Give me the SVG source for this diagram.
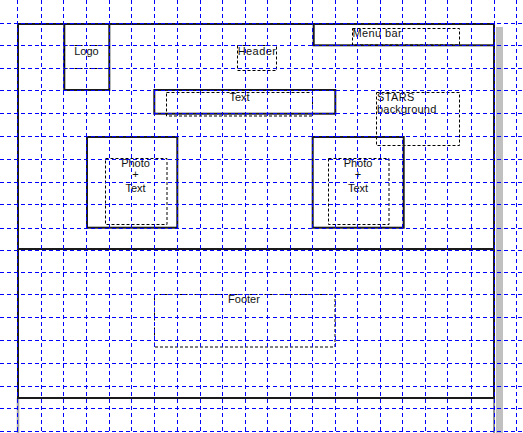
<svg xmlns="http://www.w3.org/2000/svg" width="523" height="433" viewBox="0 0 523 433">
  <style>
    .box { fill: none; stroke: #1a1a1a; stroke-width: 2; }
    .dash { fill: none; stroke: #000; stroke-width: 1; stroke-dasharray: 3 2; }
    .grid { fill: none; stroke: #0000ff; stroke-width: 1; stroke-dasharray: 4 3; }
    .lbl { font-family: "Liberation Sans", Arial, sans-serif; font-size: 11px; fill: #111; }
    .mid { text-anchor: middle; }
  </style>
  <rect width="523" height="433" fill="#fff"/>

  <!-- page edges continuing below the frame, and drop shadow -->
  <g id="page">
    <rect x="496" y="27" width="7" height="406" fill="#c0c0c0"/>
    <line x1="18" y1="398" x2="18" y2="433" stroke="#a8a8a8" stroke-width="2.5"/>
    <line x1="494" y1="398" x2="494" y2="433" stroke="#222" stroke-width="1"/>
  </g>

  <!-- outer frame and header/footer divider -->
  <g id="frame">
    <rect class="box" x="18" y="24" width="476" height="374"/>
    <line class="box" x1="18" y1="249" x2="494" y2="249"/>
  </g>

  <g id="logo">
    <rect class="box" x="64.3" y="24" width="45" height="66"/>
    <rect class="dash" x="64.5" y="45.5" width="45" height="23"/>
    <text class="lbl mid" x="86.5" y="55">Logo</text>
  </g>

  <g id="header">
    <rect class="dash" x="237.5" y="45.5" width="39" height="25"/>
    <text class="lbl mid" x="257" y="55" letter-spacing="0.4">Header</text>
  </g>

  <g id="menu-bar">
    <rect class="box" x="313.7" y="24" width="180.3" height="21.3"/>
    <rect class="dash" x="352.5" y="28.5" width="107" height="16.5"/>
    <text class="lbl" x="352.5" y="37" letter-spacing="0.4">Menu bar</text>
  </g>

  <g id="text-bar">
    <rect class="box" x="154.3" y="90" width="181" height="23.7"/>
    <rect class="dash" x="166.5" y="92.5" width="146" height="23.5"/>
    <text class="lbl mid" x="239.5" y="101">Text</text>
  </g>

  <g id="stars-background">
    <rect class="dash" x="376.5" y="92.5" width="83" height="53"/>
    <text class="lbl" x="377" y="101" letter-spacing="0.4">STARS</text>
    <text class="lbl" x="377" y="113.3" letter-spacing="0.2">background</text>
  </g>

  <g id="photo-left">
    <rect class="box" x="87" y="137" width="90.3" height="90.7"/>
    <rect class="dash" x="105.5" y="158.5" width="61.5" height="66"/>
    <text class="lbl mid" x="135.5" y="166.7">Photo</text>
    <text class="lbl mid" x="135.5" y="177.7">+</text>
    <text class="lbl mid" x="135.5" y="191.7">Text</text>
  </g>

  <g id="photo-right">
    <rect class="box" x="312.7" y="137" width="91" height="90.7"/>
    <rect class="dash" x="328.5" y="158.5" width="60.5" height="66"/>
    <text class="lbl mid" x="358" y="166.7">Photo</text>
    <text class="lbl mid" x="358" y="177.7">+</text>
    <text class="lbl mid" x="358" y="191.7">Text</text>
  </g>

  <g id="footer">
    <rect class="dash" x="154.5" y="294.5" width="180.5" height="52.5"/>
    <text class="lbl mid" x="244" y="303">Footer</text>
  </g>

  <!-- layout grid drawn over everything -->
  <g id="grid" class="grid">
    <path d="M17.5 0V433M41.5 0V433M63.5 0V433M86.5 0V433M109.5 0V433M131.5 0V433M154.5 0V433M177.5 0V433M200.5 0V433M222.5 0V433M245.5 0V433M267.5 0V433M290.5 0V433M312.5 0V433M335.5 0V433M357.5 0V433M380.5 0V433M402.5 0V433M425.5 0V433M447.5 0V433M471.5 0V433M494.5 0V433M516.5 0V433"/>
    <path d="M0 23.5H523M0 45.5H523M0 68.5H523M0 90.5H523M0 113.5H523M0 136.5H523M0 159.5H523M0 182.5H523M0 204.5H523M0 228.5H523M0 250.5H523M0 272.5H523M0 294.5H523M0 317.5H523M0 340.5H523M0 363.5H523M0 386.5H523M0 408.5H523M0 431.5H523"/>
  </g>
</svg>
